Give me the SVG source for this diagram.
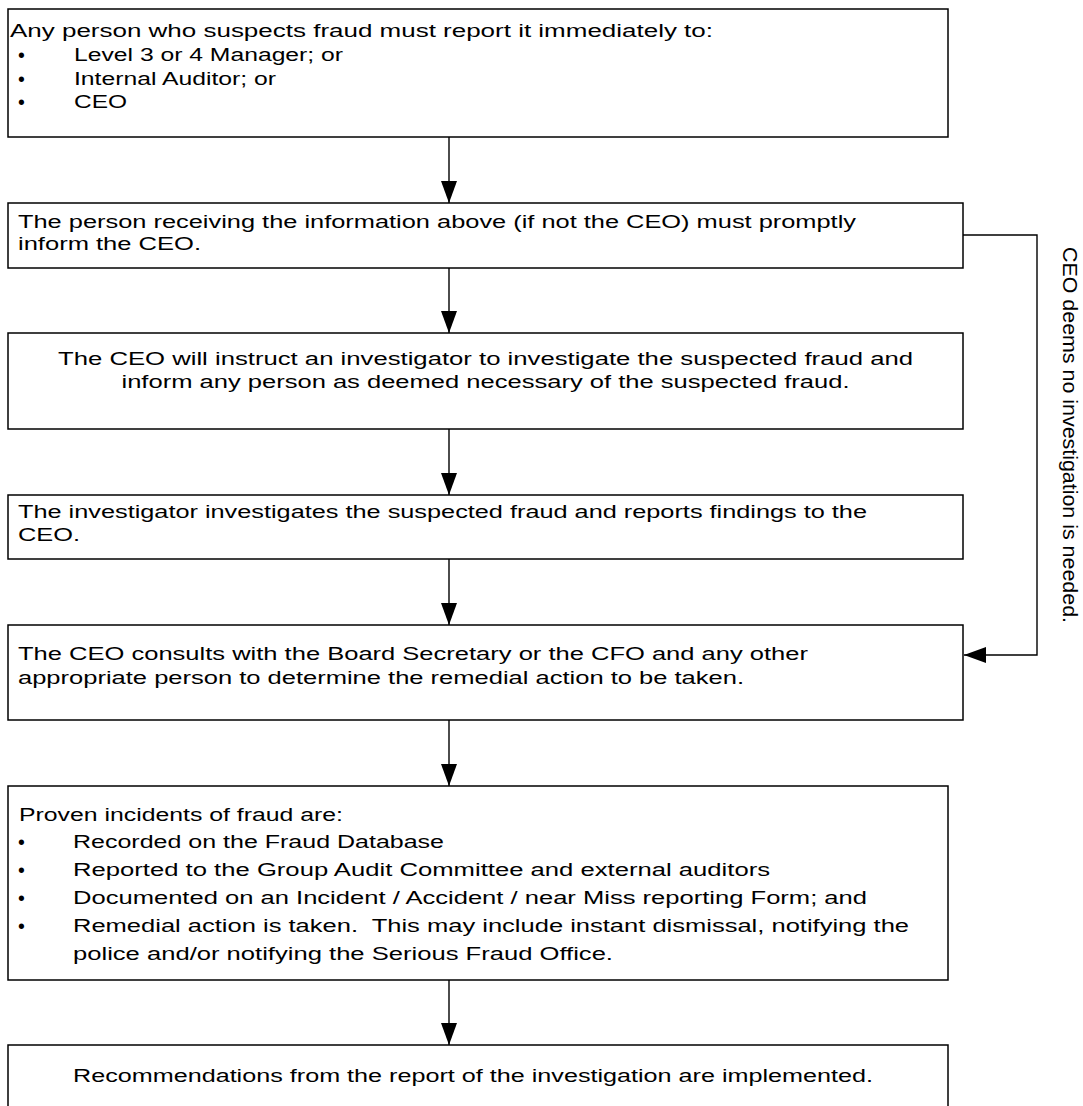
<svg xmlns="http://www.w3.org/2000/svg" width="1083" height="1106" viewBox="0 0 1083 1106">
<style>
.box{fill:#fff;stroke:#000;stroke-width:1.5}
.t{font-family:"Liberation Sans",Arial,sans-serif;font-size:17.5px;fill:#000}
.b{font-family:"Liberation Sans",Arial,sans-serif;font-size:19.5px;fill:#000}
.v{font-family:"Liberation Sans",Arial,sans-serif;font-size:20px;fill:#000}
.c{fill:none;stroke:#000;stroke-width:1.4}
</style>
<defs>
<marker id="ah" viewBox="0 0 22 16" refX="22" refY="8" markerWidth="22" markerHeight="16" orient="auto" markerUnits="userSpaceOnUse">
<path d="M0,0 L22,8 L0,16 Z" fill="#000"/>
</marker>
</defs>
<rect width="1083" height="1106" fill="#fff"/>
<g id="connectors">
<line class="c" x1="449" y1="137" x2="449" y2="203" marker-end="url(#ah)"/>
<line class="c" x1="449" y1="268" x2="449" y2="333" marker-end="url(#ah)"/>
<line class="c" x1="449" y1="429" x2="449" y2="495" marker-end="url(#ah)"/>
<line class="c" x1="449" y1="559" x2="449" y2="625" marker-end="url(#ah)"/>
<line class="c" x1="449" y1="720" x2="449" y2="786" marker-end="url(#ah)"/>
<line class="c" x1="449" y1="980" x2="449" y2="1045" marker-end="url(#ah)"/>
<path class="c" d="M963,235 H1037 V655 H964" marker-end="url(#ah)"/>
<text class="v" transform="translate(1063,247) rotate(90)" textLength="376" lengthAdjust="spacingAndGlyphs">CEO deems no investigation is needed.</text>
</g>
<g id="n1">
<rect class="box" x="8" y="9" width="940" height="128"/>
<text class="t" x="10" y="37" textLength="703" lengthAdjust="spacingAndGlyphs">Any person who suspects fraud must report it immediately to:</text>
<text class="b" x="18" y="62">•</text>
<text class="t" x="74" y="61" textLength="269" lengthAdjust="spacingAndGlyphs">Level 3 or 4 Manager; or</text>
<text class="b" x="18" y="86">•</text>
<text class="t" x="74" y="85" textLength="202" lengthAdjust="spacingAndGlyphs">Internal Auditor; or</text>
<text class="b" x="18" y="109">•</text>
<text class="t" x="74" y="108" textLength="53" lengthAdjust="spacingAndGlyphs">CEO</text>
</g>
<g id="n2">
<rect class="box" x="8" y="203" width="955" height="65"/>
<text class="t" x="18" y="228" textLength="838" lengthAdjust="spacingAndGlyphs">The person receiving the information above (if not the CEO) must promptly</text>
<text class="t" x="18" y="250" textLength="183" lengthAdjust="spacingAndGlyphs">inform the CEO.</text>
</g>
<g id="n3">
<rect class="box" x="8" y="333" width="955" height="96"/>
<text class="t" x="485.5" y="365" text-anchor="middle" textLength="855" lengthAdjust="spacingAndGlyphs">The CEO will instruct an investigator to investigate the suspected fraud and</text>
<text class="t" x="485.5" y="388" text-anchor="middle" textLength="728" lengthAdjust="spacingAndGlyphs">inform any person as deemed necessary of the suspected fraud.</text>
</g>
<g id="n4">
<rect class="box" x="8" y="495" width="955" height="64"/>
<text class="t" x="18" y="518" textLength="849" lengthAdjust="spacingAndGlyphs">The investigator investigates the suspected fraud and reports findings to the</text>
<text class="t" x="18" y="541" textLength="62" lengthAdjust="spacingAndGlyphs">CEO.</text>
</g>
<g id="n5">
<rect class="box" x="8" y="625" width="955" height="95"/>
<text class="t" x="18" y="660" textLength="790" lengthAdjust="spacingAndGlyphs">The CEO consults with the Board Secretary or the CFO and any other</text>
<text class="t" x="18" y="684" textLength="726" lengthAdjust="spacingAndGlyphs">appropriate person to determine the remedial action to be taken.</text>
</g>
<g id="n6">
<rect class="box" x="8" y="786" width="940" height="194"/>
<text class="t" x="19" y="821" textLength="324" lengthAdjust="spacingAndGlyphs">Proven incidents of fraud are:</text>
<text class="b" x="18" y="849">•</text>
<text class="t" x="73" y="848" textLength="371" lengthAdjust="spacingAndGlyphs">Recorded on the Fraud Database</text>
<text class="b" x="18" y="877">•</text>
<text class="t" x="73" y="876" textLength="697" lengthAdjust="spacingAndGlyphs">Reported to the Group Audit Committee and external auditors</text>
<text class="b" x="18" y="905">•</text>
<text class="t" x="73" y="904" textLength="794" lengthAdjust="spacingAndGlyphs">Documented on an Incident / Accident / near Miss reporting Form; and</text>
<text class="b" x="18" y="933">•</text>
<text class="t" x="73" y="932" textLength="836" lengthAdjust="spacingAndGlyphs" xml:space="preserve">Remedial action is taken.  This may include instant dismissal, notifying the</text>
<text class="t" x="73" y="960" textLength="540" lengthAdjust="spacingAndGlyphs">police and/or notifying the Serious Fraud Office.</text>
</g>
<g id="n7">
<rect class="box" x="8" y="1045" width="940" height="70"/>
<text class="t" x="473" y="1082" text-anchor="middle" textLength="800" lengthAdjust="spacingAndGlyphs">Recommendations from the report of the investigation are implemented.</text>
</g>
</svg>
